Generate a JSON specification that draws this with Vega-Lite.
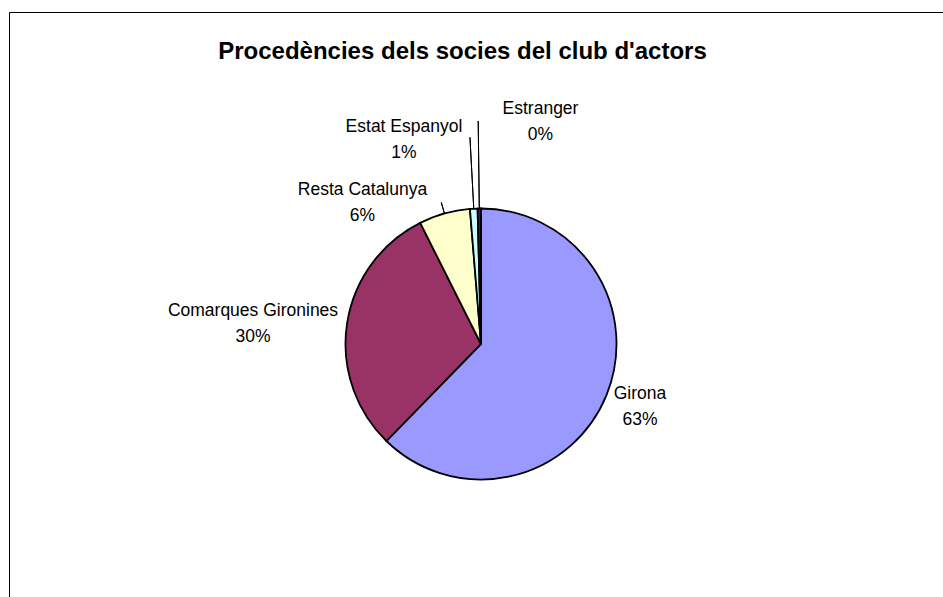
{
  "$schema": "https://vega.github.io/schema/vega-lite/v6.json",
  "width": 944,
  "height": 664,
  "autosize": {"type": "none"},
  "padding": {"left": 9, "top": 12, "right": 0, "bottom": 0},
  "background": "white",
  "view": {"stroke": "black", "strokeWidth": 1, "fill": "white"},
  "config": {
    "view": {"stroke": "black", "strokeWidth": 1},
    "font": "Liberation Sans"
  },
  "title": {
    "text": "Procedències dels socies del club d'actors",
    "font": "Liberation Sans",
    "fontSize": 24,
    "fontWeight": "bold",
    "color": "black",
    "anchor": "middle",
    "frame": "group",
    "baseline": "alphabetic",
    "offset": -45,
    "dx": -18.5,
    "dy": 26
  },
  "data": {
    "values": [
      {"region": "Girona", "value": 62.3, "pct": "63%", "order": 1},
      {"region": "Comarques Gironines", "value": 30.3, "pct": "30%", "order": 2},
      {"region": "Resta Catalunya", "value": 6.1, "pct": "6%", "order": 3},
      {"region": "Estat Espanyol", "value": 0.9, "pct": "1%", "order": 4},
      {"region": "Estranger", "value": 0.4, "pct": "0%", "order": 5}
    ]
  },
  "transform": [
    {"stack": "value", "groupby": [], "as": ["v0", "v1"], "sort": [{"field": "order", "order": "ascending"}]},
    {"calculate": "(datum.v0 + datum.v1) / 2", "as": "mid"},
    {"calculate": "[datum.region, datum.pct]", "as": "label"}
  ],
  "layer": [
    {
      "mark": {"type": "arc", "outerRadius": 135.5, "stroke": "black", "strokeWidth": 1.8, "strokeJoin": "miter"},
      "encoding": {
        "theta": {"field": "v0", "type": "quantitative", "scale": {"domain": [0, 100]}},
        "theta2": {"field": "v1"},
        "color": {
          "field": "region",
          "type": "nominal",
          "scale": {
            "domain": ["Girona", "Comarques Gironines", "Resta Catalunya", "Estat Espanyol", "Estranger"],
            "range": ["#9999FF", "#993366", "#FFFFCC", "#CCFFFF", "#660066"]
          },
          "legend": null
        }
      }
    },
    {
      "transform": [{"filter": "datum.region === 'Resta Catalunya'"}],
      "mark": {"type": "arc", "innerRadius": 136, "outerRadius": 147, "filled": false, "stroke": "black", "strokeWidth": 1},
      "encoding": {"theta": {"field": "mid", "type": "quantitative"}, "theta2": {"field": "mid"}}
    },
    {
      "transform": [{"filter": "datum.region === 'Estat Espanyol'"}],
      "mark": {"type": "arc", "innerRadius": 136, "outerRadius": 207, "filled": false, "stroke": "black", "strokeWidth": 1},
      "encoding": {"theta": {"field": "mid", "type": "quantitative"}, "theta2": {"field": "mid"}}
    },
    {
      "transform": [{"filter": "datum.region === 'Estranger'"}],
      "mark": {"type": "arc", "innerRadius": 136, "outerRadius": 223, "filled": false, "stroke": "black", "strokeWidth": 1},
      "encoding": {"theta": {"field": "mid", "type": "quantitative"}, "theta2": {"field": "mid"}}
    },
    {
      "transform": [{"filter": "datum.region === 'Girona'"}],
      "mark": {"type": "text", "radius": 160, "dx": 10.8, "dy": -19.3, "align": "center", "baseline": "top", "fontSize": 17.5, "lineHeight": 26, "fill": "black"},
      "encoding": {"theta": {"field": "mid", "type": "quantitative"}, "text": {"field": "label"}}
    },
    {
      "transform": [{"filter": "datum.region === 'Comarques Gironines'"}],
      "mark": {"type": "text", "radius": 160, "dx": -69.9, "dy": -17.5, "align": "center", "baseline": "top", "fontSize": 17.5, "lineHeight": 26, "fill": "black"},
      "encoding": {"theta": {"field": "mid", "type": "quantitative"}, "text": {"field": "label"}}
    },
    {
      "transform": [{"filter": "datum.region === 'Resta Catalunya'"}],
      "mark": {"type": "text", "radius": 160, "dx": -75.3, "dy": -8.9, "align": "center", "baseline": "top", "fontSize": 17.5, "lineHeight": 26, "fill": "black"},
      "encoding": {"theta": {"field": "mid", "type": "quantitative"}, "text": {"field": "label"}}
    },
    {
      "transform": [{"filter": "datum.region === 'Estat Espanyol'"}],
      "mark": {"type": "text", "radius": 160, "dx": -68.5, "dy": -66.2, "align": "center", "baseline": "top", "fontSize": 17.5, "lineHeight": 26, "fill": "black"},
      "encoding": {"theta": {"field": "mid", "type": "quantitative"}, "text": {"field": "label"}}
    },
    {
      "transform": [{"filter": "datum.region === 'Estranger'"}],
      "mark": {"type": "text", "radius": 160, "dx": 61.5, "dy": -84, "align": "center", "baseline": "top", "fontSize": 17.5, "lineHeight": 26, "fill": "black"},
      "encoding": {"theta": {"field": "mid", "type": "quantitative"}, "text": {"field": "label"}}
    }
  ]
}
